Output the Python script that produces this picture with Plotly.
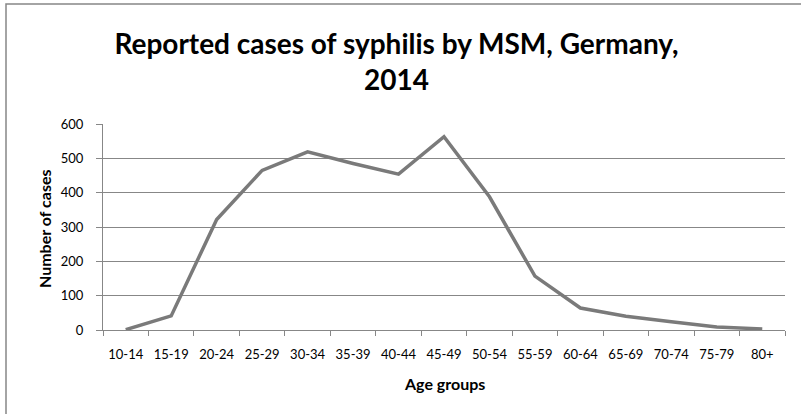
import plotly.graph_objects as go

age_groups = ["10-14", "15-19", "20-24", "25-29", "30-34", "35-39", "40-44", "45-49",
              "50-54", "55-59", "60-64", "65-69", "70-74", "75-79", "80+"]
cases = [1, 41, 322, 465, 519, 485, 454, 563, 388, 157, 64, 40, 24, 9, 3]
y_ticks = [0, 100, 200, 300, 400, 500, 600]

FONT = "Lato, Carlito, sans-serif"
GRID = "#878787"

fig = go.Figure()
fig.add_trace(go.Scatter(x=age_groups, y=cases, mode="lines",
                         line=dict(color="#7a7a7a", width=3.5), hoverinfo="x+y"))

L, R, T, B = 103, 16, 124, 84
W, H = 801, 414
pw, ph = W - L - R, H - T - B

fig.update_layout(
    width=W, height=H,
    margin=dict(l=L, r=R, t=T, b=B, autoexpand=False),
    paper_bgcolor="white", plot_bgcolor="white",
    showlegend=False,
    font=dict(family=FONT, size=13, color="#000000"),
    title=dict(text="<b>Reported cases of syphilis by MSM, Germany,<br>2014</b>",
               x=0.495, xref="container", xanchor="center",
               y=1 - 54 / H, yref="container", yanchor="top",
               font=dict(family=FONT, size=28, color="#000000")),
    xaxis=dict(type="category", categoryorder="array", categoryarray=age_groups,
               range=[-0.5, len(age_groups) - 0.5], automargin=False,
               tickson="boundaries", ticks="outside", ticklen=5, tickcolor=GRID,
               showline=True, linecolor=GRID, linewidth=1, showgrid=False,
               tickfont=dict(family=FONT, size=13), ticklabelstandoff=12),
    yaxis=dict(range=[0, 600], tickvals=y_ticks, ticks="outside", ticklen=6, tickcolor=GRID,
               automargin=False,
               showline=True, linecolor=GRID, linewidth=1,
               showgrid=True, gridcolor=GRID, gridwidth=1, zeroline=False,
               tickfont=dict(family=FONT, size=13), ticklabelstandoff=10),
)

# axis titles
fig.add_annotation(text="<b>Age groups</b>", xref="paper", yref="paper",
                   x=0.5, y=-(383 - (H - B)) / ph, xanchor="center", yanchor="middle",
                   showarrow=False, font=dict(family=FONT, size=16, color="#000000"))
fig.add_annotation(text="<b>Number of cases</b>", xref="paper", yref="paper",
                   x=(44 - L) / pw, y=(H - B - 228) / ph, xanchor="center", yanchor="middle",
                   textangle=-90, showarrow=False, font=dict(family=FONT, size=16, color="#000000"))

# outer chart frame
fig.add_shape(type="rect", xref="paper", yref="paper",
              x0=(6 - L) / pw, x1=(W + 20 - L) / pw,
              y0=-(H + 20 - (H - B)) / ph, y1=(H - B - 4) / ph,
              line=dict(color="#868686", width=1.5), fillcolor="rgba(0,0,0,0)", layer="below")

fig.write_html("out.html", config={"displayModeBar": False},
               post_script="document.body.style.margin='0';document.body.style.overflow='hidden';")
